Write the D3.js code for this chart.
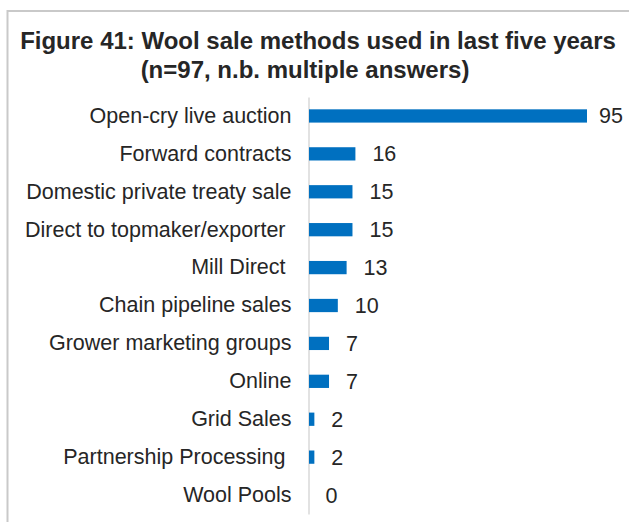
<!DOCTYPE html>
<html>
<head>
<meta charset="utf-8">
<script src="https://cdn.jsdelivr.net/npm/d3@7/dist/d3.min.js"></script>
<style>
  html, body { margin: 0; padding: 0; background: #fff; }
  svg { display: block; }
  text { font-family: "Liberation Sans", Arial, sans-serif; }
</style>
</head>
<body>
<script>
const categories = [
  "Open-cry live auction",
  "Forward contracts",
  "Domestic private treaty sale",
  "Direct to topmaker/exporter ",
  "Mill Direct ",
  "Chain pipeline sales",
  "Grower marketing groups",
  "Online",
  "Grid Sales",
  "Partnership Processing ",
  "Wool Pools"
];
const values = [95, 16, 15, 15, 13, 10, 7, 7, 2, 2, 0];
const titleLines = [
  "Figure 41: Wool sale methods used in last five years",
  "(n=97, n.b. multiple answers)"
];

const W = 629, H = 522;
const svg = d3.select("body").append("svg").attr("width", W).attr("height", H);

// chart frame
svg.append("rect")
  .attr("x", 7.5).attr("y", 11)
  .attr("width", W + 10).attr("height", H + 10)
  .attr("fill", "none").attr("stroke", "#c9c9c9").attr("stroke-width", 2);

// title
svg.append("text").attr("x", 318).attr("y", 49)
  .attr("text-anchor", "middle").attr("font-size", 24).attr("font-weight", "bold")
  .attr("fill", "#262626").text(titleLines[0]);
svg.append("text").attr("x", 305).attr("y", 78)
  .attr("text-anchor", "middle").attr("font-size", 24).attr("font-weight", "bold")
  .attr("fill", "#262626").text(titleLines[1]);

const x0 = 308.5;
const x = d3.scaleLinear().domain([0, 95]).range([x0, 587]);
const y = d3.scaleBand().domain(categories).range([97, 514])
  .paddingInner(0.65).paddingOuter(0.325);

// category axis
const yAxis = d3.axisLeft(y).tickSize(0).tickPadding(17);
const gy = svg.append("g").attr("transform", `translate(${x0},0)`).call(yAxis);
gy.select(".domain").attr("stroke", "#d9d9d9").attr("stroke-width", 1.5);
gy.selectAll("text")
  .attr("font-size", 21.5).attr("fill", "#262626")
  .style("white-space", "pre")
  .attr("font-family", "Liberation Sans, Arial, sans-serif");

// bars
svg.selectAll("rect.bar").data(values).enter().append("rect")
  .attr("class", "bar")
  .attr("x", x0 + 0.5)
  .attr("y", (d, i) => y(categories[i]))
  .attr("width", d => Math.max(0, x(d) - x0 - 0.5))
  .attr("height", y.bandwidth())
  .attr("fill", "#0070c0");

// value labels
svg.selectAll("text.val").data(values).enter().append("text")
  .attr("class", "val")
  .attr("x", d => Math.min(x(d) + 17, 599))
  .attr("y", (d, i) => y(categories[i]) + y.bandwidth() / 2)
  .attr("dy", "0.35em")
  .attr("font-size", 21.5).attr("fill", "#262626")
  .text(d => d);
</script>
</body>
</html>
